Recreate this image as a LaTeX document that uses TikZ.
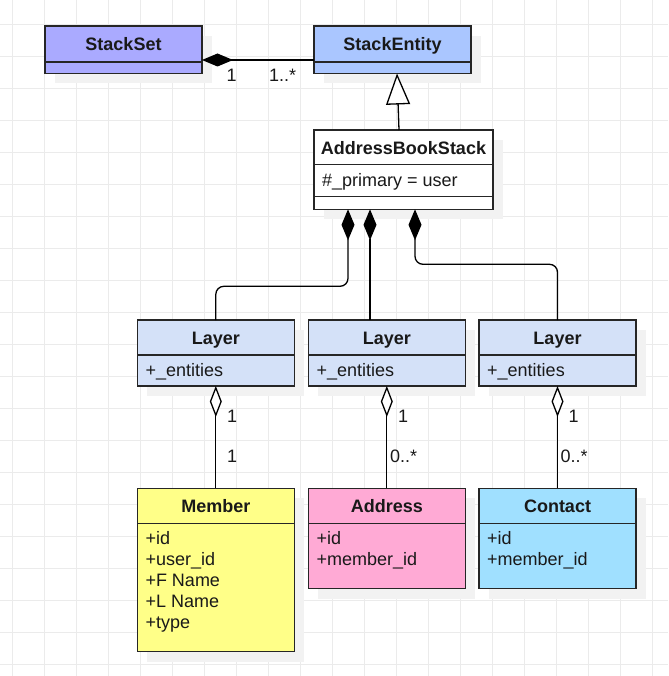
\documentclass[tikz,border=0pt]{standalone}
\usepackage{fontspec}
\setmainfont{Liberation Sans}
\usetikzlibrary{arrows.meta,calc,shadows}
\definecolor{gridc}{HTML}{EBEBEB}
\definecolor{ssfill}{HTML}{AAAAFF}
\definecolor{sefill}{HTML}{AAC6FF}
\definecolor{layfill}{HTML}{D4E1F8}
\definecolor{memfill}{HTML}{FFFF88}
\definecolor{adrfill}{HTML}{FFAAD5}
\definecolor{conFill}{HTML}{A0E0FF}
\definecolor{shadc}{HTML}{F2F2F2}
\tikzset{
  umlbox/.style={draw=black!85, line width=1.3pt, inner sep=0pt, outer sep=0pt,
    minimum width=157pt, anchor=north west,
    drop shadow={shadow xshift=10pt, shadow yshift=-10pt, fill=shadc, opacity=1}},
  divline/.style={draw=black!85, line width=1.3pt},
  ttl/.style={font=\fontsize{18}{21}\selectfont\bfseries, inner sep=0pt, anchor=base, text=black!90},
  attr/.style={font=\fontsize{18}{21}\selectfont, inner sep=0pt, anchor=base west, text=black!90},
  lbl/.style={font=\fontsize{18}{21}\selectfont, inner sep=0pt, anchor=base west, text=black!90},
  comp/.style={draw=black, line width=1.3pt, {Diamond[length=31pt,width=13pt]}-},
  agg/.style={draw=black, line width=1.3pt, {Diamond[fill=white,length=31pt,width=12pt]}-},
  inh/.style={draw=black, line width=1.3pt, -{Triangle[fill=white,length=31pt,width=24pt]}},
}
\begin{document}
\begin{tikzpicture}[x=1pt,y=-1pt]
\useasboundingbox (0,0) rectangle (668,676);
% grid
\foreach \i in {0,...,20} \draw[gridc, line width=1pt] (12.3+32*\i,0) -- (12.3+32*\i,676);
\foreach \j in {0,...,20} \draw[gridc, line width=1pt] (0,24.3+32*\j) -- (668,24.3+32*\j);

% StackSet
\node[umlbox, fill=ssfill, minimum height=47.5pt] (ss) at (45,26) {};
\draw[divline] ($(ss.north west)+(0,36)$) -- ($(ss.north east)+(0,36)$);
\node[ttl] (ssT) at ($(ss.north)+(0,24.7)$) {StackSet};

% StackEntity
\node[umlbox, fill=sefill, minimum height=47.5pt] (se) at (314,26) {};
\draw[divline] ($(se.north west)+(0,36)$) -- ($(se.north east)+(0,36)$);
\node[ttl] (seT) at ($(se.north)+(0,24.7)$) {StackEntity};

% AddressBookStack
\node[umlbox, fill=white, minimum width=179pt, minimum height=79.3pt] (abs) at (314,130) {};
\draw[divline] ($(abs.north west)+(0,34.3)$) -- ($(abs.north east)+(0,34.3)$);
\draw[divline] ($(abs.north west)+(0,66.7)$) -- ($(abs.north east)+(0,66.7)$);
\node[ttl] (absT) at ($(abs.north)+(0,24.3)$) {AddressBookStack};
\node[attr] (absA) at ($(abs.north west)+(8,56.7)$) {\#\_primary = user};

% Layers
\foreach \n/\x in {L1/137.3, L2/308.3, L3/479} {
  \node[umlbox, fill=layfill, minimum height=66pt] (\n) at (\x,320) {};
  \draw[divline] ($(\n.north west)+(0,35)$) -- ($(\n.north east)+(0,35)$);
  \node[ttl] (\n T) at ($(\n.north)+(0,24.3)$) {Layer};
  \node[attr] (\n A) at ($(\n.north west)+(8,56)$) {+\_entities};
}

% Member
\node[umlbox, fill=memfill, minimum height=163.4pt] (M) at (137.3,488.3) {};
\draw[divline] ($(M.north west)+(0,35)$) -- ($(M.north east)+(0,35)$);
\node[ttl] (MT) at ($(M.north)+(0,24.4)$) {Member};
\foreach \k/\t in {0/+id, 1/+user\_id, 2/+F Name, 3/+L Name, 4/+type}
  \node[attr] (M\k) at ($(M.north west)+(8,56.2+21*\k)$) {\t};

% Address
\node[umlbox, fill=adrfill, minimum height=100.4pt] (A) at (308.3,488.3) {};
\draw[divline] ($(A.north west)+(0,35)$) -- ($(A.north east)+(0,35)$);
\node[ttl] (AT) at ($(A.north)+(0,24.4)$) {Address};
\node[attr] (A0) at ($(A.north west)+(8,56.2)$) {+id};
\node[attr] (A1) at ($(A.north west)+(8,77.2)$) {+member\_id};

% Contact
\node[umlbox, fill=conFill, minimum height=100.4pt] (C) at (479,488.3) {};
\draw[divline] ($(C.north west)+(0,35)$) -- ($(C.north east)+(0,35)$);
\node[ttl] (CT) at ($(C.north)+(0,24.4)$) {Contact};
\node[attr] (C0) at ($(C.north west)+(8,56.2)$) {+id};
\node[attr] (C1) at ($(C.north west)+(8,77.2)$) {+member\_id};

% StackSet -- StackEntity composition
\draw[comp] ($(ss.north east)+(0,34)$) -- ($(se.north west)+(0,34)$);
\node[lbl] (c1) at (226.5,82) {1};
\node[lbl] (c2) at (268.8,82) {1..*};

% inheritance
\draw[inh] ($(abs.north west)+(85,0)$) -- ($(se.south west)+(83,0)$);

% compositions from AddressBookStack
\coordinate (a1) at ($(abs.south west)+(34,0)$);
\coordinate (a2) at ($(abs.south west)+(56,0)$);
\coordinate (a3) at ($(abs.south west)+(101,0)$);
\draw[comp, rounded corners=8pt] (a1) -- ++(0,77) -| (L1.north);
\draw[comp] (a2) -- (a2 |- L2.north);
\draw[comp, rounded corners=8pt] (a3) -- ++(0,55) -| (L3.north);

% aggregations
\draw[agg] (L1.south) -- (M.north);
\draw[agg] (L2.south) -- (A.north);
\draw[agg] (L3.south) -- (C.north);
\node[lbl] (u1) at ($(L1.south)+(11,36.3)$) {1};
\node[lbl] (u2) at ($(L2.south)+(11,36.3)$) {1};
\node[lbl] (u3) at ($(L3.south)+(11,36.3)$) {1};
\node[lbl] (d1) at ($(L1.south)+(11,76.3)$) {1};
\node[lbl] (d2) at ($(L2.south)+(3,76.3)$) {0..*};
\node[lbl] (d3) at ($(L3.south)+(3,76.3)$) {0..*};
\end{tikzpicture}
\end{document}
